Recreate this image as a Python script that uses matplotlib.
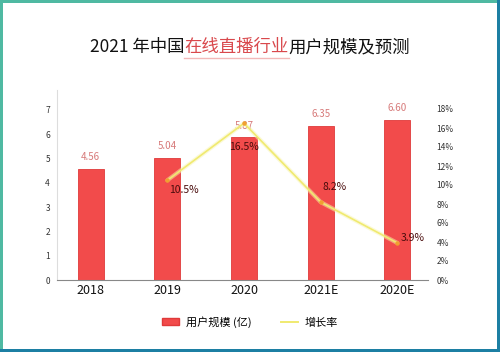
import matplotlib
matplotlib.use("Agg")
import matplotlib.pyplot as plt
from matplotlib.patches import Patch, Rectangle
from matplotlib.lines import Line2D

plt.rcParams['font.family'] = ['Noto Sans CJK SC', 'DejaVu Sans']

categories = ["2018", "2019", "2020", "2021E", "2020E"]
users = [4.56, 5.04, 5.87, 6.35, 6.60]
growth = [None, 10.5, 16.5, 8.2, 3.9]
left_ticks = [0, 1, 2, 3, 4, 5, 6, 7]
right_ticks = [0, 2, 4, 6, 8, 10, 12, 14, 16, 18]

W, H = 500, 352
fig = plt.figure(figsize=(W / 100, H / 100), dpi=100)
fig.patch.set_facecolor('white')

# frame border
fig.add_artist(Rectangle((0, 0), 2.5 / W, 1, transform=fig.transFigure, color='#4fb9a2', lw=0))
fig.add_artist(Rectangle((0, 1 - 3 / H), 1, 3 / H, transform=fig.transFigure, color='#4fb9a2', lw=0))
fig.add_artist(Rectangle((1 - 3.5 / W, 0), 3.5 / W, 1, transform=fig.transFigure, color='#1c7fa3', lw=0))
fig.add_artist(Rectangle((0, 0), 1, 3.5 / H, transform=fig.transFigure, color='#1c7fa3', lw=0))

ax = fig.add_axes([57 / W, 1 - 280 / H, (428 - 57) / W, 190 / H])
x = list(range(len(categories)))
ax.bar(x, users, width=0.34, color='#f24b4b', edgecolor='#e03a3a', linewidth=0.6, zorder=2)
ax.set_xlim(-0.44, 4.4)
ax.set_ylim(0, 7.82)
ax.set_yticks(left_ticks)
ax.set_yticklabels([str(t) for t in left_ticks], fontsize=6, color='#333333')
ax.set_xticks(x)
ax.set_xticklabels(categories, fontsize=9, color='#111111')
ax.tick_params(axis='both', length=0, pad=5)
ax.tick_params(axis='x', pad=3)
for s in ['top', 'right']:
    ax.spines[s].set_visible(False)
ax.spines['left'].set_color('#dddddd')
ax.spines['left'].set_linewidth(0.8)
ax.spines['bottom'].set_color('#888888')
ax.spines['bottom'].set_linewidth(0.8)

for xi, v in zip(x, users):
    ax.text(xi, v + 0.28, f"{v:.2f}", ha='center', va='bottom', fontsize=7, color='#d77a7a')

ax2 = ax.twinx()
ax2.set_ylim(0, 20)
ax2.set_yticks(right_ticks)
ax2.set_yticklabels([f"{t}%" for t in right_ticks], fontsize=6, color='#333333')
ax2.tick_params(axis='y', length=0, pad=6)
for s in ['top', 'right', 'left', 'bottom']:
    ax2.spines[s].set_visible(False)

gx = [xi for xi, g in zip(x, growth) if g is not None]
gy = [g for g in growth if g is not None]
ax2.plot(gx, gy, color='#f8f5b0', lw=3, alpha=0.5, zorder=3, solid_capstyle='round')
ax2.plot(gx, gy, color='#f0ea70', lw=1.2, zorder=4)
ax2.plot(gx, gy, 'o', color='#f0a030', ms=2.2, zorder=5)
offsets = [(0.02, -1.05, 'left'), (0.0, -2.5, 'center'), (0.02, 1.6, 'left'), (0.04, 0.5, 'left')]
for (gxi, gyi), (dx, dy, ha) in zip(zip(gx, gy), offsets):
    ax2.text(gxi + dx, gyi + dy, f"{gyi}%", ha=ha, va='center', fontsize=7.5, color='#4a0c0c', zorder=6)

# Title with highlighted part
fig.canvas.draw()
r = fig.canvas.get_renderer()
parts = [("2021 年中国", '#111111'), ("在线直播行业", '#d9484c'), ("用户规模及预测", '#111111')]
ty = 1 - 47 / H
texts = []
for s, c in parts:
    t = fig.text(0, ty, s, fontsize=12.5, color=c, ha='left', va='center')
    texts.append(t)
widths = [t.get_window_extent(renderer=r).width / W for t in texts]
total = sum(widths)
cur = 0.5 - total / 2
starts = []
for t, w in zip(texts, widths):
    t.set_x(cur)
    starts.append(cur)
    cur += w
fig.add_artist(Line2D([starts[1], starts[1] + widths[1]], [1 - 57.5 / H, 1 - 57.5 / H],
                      transform=fig.transFigure, color='#f3b8b8', lw=1))

handles = [Patch(facecolor='#f24b4b', edgecolor='#e03a3a'),
           Line2D([0], [0], color='#f0ea70', lw=1.4)]
fig.legend(handles, ["用户规模 (亿)", "增长率"], loc='center', bbox_to_anchor=(0.5, 1 - 322 / H),
           ncol=2, frameon=False, fontsize=8, handlelength=1.6, handleheight=0.6,
           columnspacing=2.6, handletextpad=0.6)

fig.savefig("out.png", dpi=100, facecolor='white')
